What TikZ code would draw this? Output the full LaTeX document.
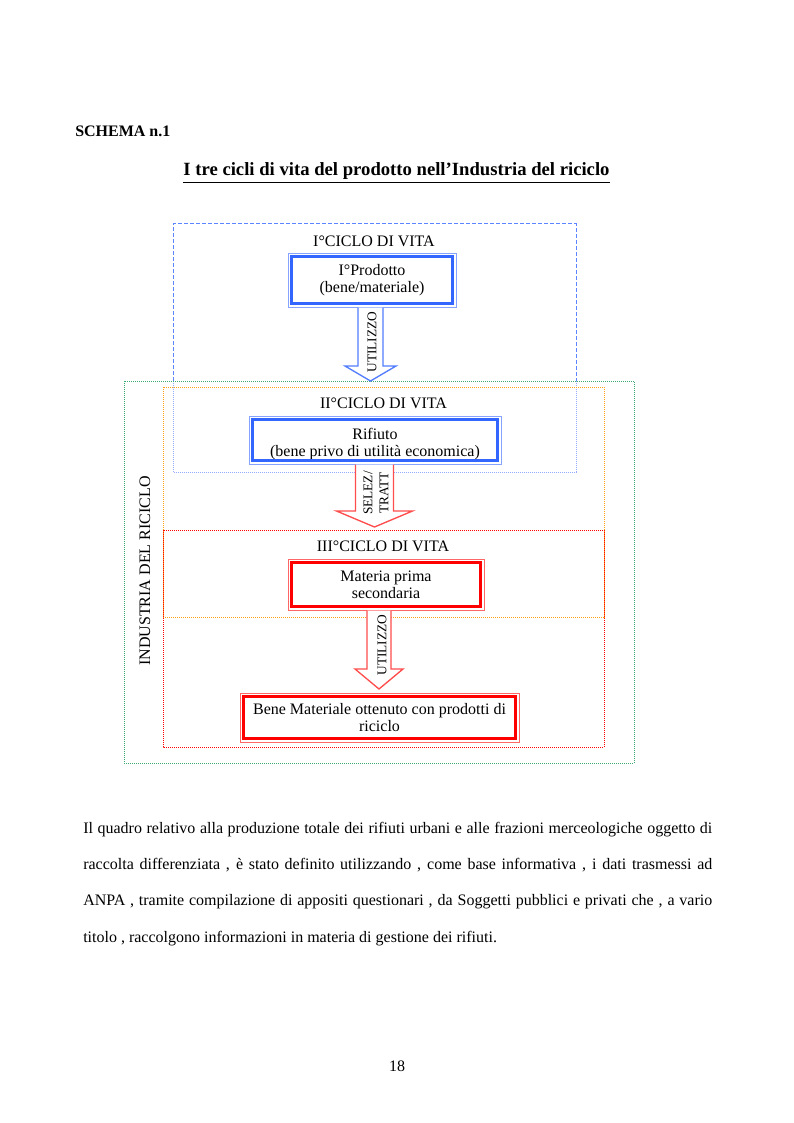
\documentclass[tikz,border=0pt]{standalone}
\usepackage{fontspec}
\setmainfont{Liberation Serif}
\usetikzlibrary{calc}

\definecolor{cycblue}{RGB}{51,102,255}
\definecolor{cycred}{RGB}{255,0,0}
\definecolor{frgreen}{RGB}{60,170,110}
\definecolor{frorange}{RGB}{255,160,20}
\definecolor{frlightblue}{RGB}{150,170,255}

\tikzset{
  lbl/.style={inner sep=0pt, font=\fontsize{12}{14}\selectfont},
  smalllbl/.style={inner sep=0pt, rotate=90, align=center, font=\fontsize{10}{12}\selectfont},
  bluebox/.style={draw=cycblue!60, line width=0.75pt, inner sep=0pt, align=center, font=\fontsize{12}{12.75}\selectfont},
  redbox/.style={draw=cycred!60, line width=0.75pt, inner sep=0pt, align=center, font=\fontsize{12}{12.75}\selectfont},
  bluearrow/.style={draw=cycblue!85, fill=white, line width=1pt},
  redarrow/.style={draw=cycred!70, fill=white, line width=1pt},
  bluedash/.style={draw=cycblue!80, line width=0.75pt, dash pattern=on 3pt off 1.5pt},
  bluedot/.style={draw=frlightblue, line width=0.75pt, dash pattern=on 0.75pt off 0.75pt},
  greendot/.style={draw=frgreen, line width=0.75pt, dash pattern=on 0.75pt off 0.75pt},
  orangedot/.style={draw=frorange, line width=0.75pt, dash pattern=on 0.75pt off 0.75pt},
  reddot/.style={draw=cycred, line width=0.75pt, dash pattern=on 0.75pt off 0.75pt}
}

\begin{document}
\begin{tikzpicture}[x=0.75pt, y=-0.75pt]
  \useasboundingbox (0,0) rectangle (793,1123);

  % heading
  \node[lbl, anchor=base west, font=\bfseries\fontsize{12}{14}\selectfont] (schema) at (75,137) {SCHEMA n.1};
  \node[lbl, anchor=base, font=\bfseries\fontsize{14}{16}\selectfont] (titolo) at (396.5,176) {\underline{I tre cicli di vita del prodotto nell’Industria del riciclo}};

  % frames
  \draw[bluedash] (173,381) |- (576,224) -- (576,381);
  \draw[bluedot] (576,381) |- (173,472) -- (173,381);
  \draw[greendot] (124,381) rectangle (634,763);
  \draw[orangedot] (163,387) rectangle (604,617);
  \draw[reddot] (163,530) rectangle (604,747);

  % cycle labels
  \node[lbl, anchor=base] (ciclo1) at (374,246.5) {I°CICLO DI VITA};
  \node[lbl, anchor=base] (ciclo2) at (383.5,408) {II°CICLO DI VITA};
  \node[lbl, anchor=base] (ciclo3) at (383,551.5) {III°CICLO DI VITA};
  \node[lbl, rotate=90] (industria) at (145,571) {INDUSTRIA DEL RICICLO};

  % boxes
  \node[bluebox, minimum width=126pt, minimum height=40.5pt] (prodotto) at (372,280) {I°Prodotto\\(bene/materiale)};
  \node[bluebox, minimum width=189pt, minimum height=36pt] (rifiuto) at (375,440) {\rule{0pt}{14pt}Rifiuto\\(bene privo di utilità economica)};
  \node[redbox, minimum width=147pt, minimum height=38.25pt] (materia) at (386,584.5) {Materia prima\\secondaria};
  \node[redbox, minimum width=209.25pt, minimum height=36.75pt] (bene) at (379.5,717.5) {Bene Materiale ottenuto con prodotti di\\riciclo};
  \foreach \b/\c in {prodotto/cycblue, rifiuto/cycblue, materia/cycred, bene/cycred}
    \draw[line width=2.8pt, \c] ([shift={(4,4)}]\b.north west) rectangle ([shift={(-4,-4)}]\b.south east);

  % block arrows
  \coordinate (tip1) at (370.5,381);
  \coordinate (tip2) at (374.5,527);
  \coordinate (tip3) at (379,689);
  \draw[bluearrow] ($(prodotto.south -| tip1)+(-12.5,0)$) -- ($(tip1)+(-12.5,-15)$) -- ($(tip1)+(-25.5,-15)$) -- (tip1)
    -- ($(tip1)+(25.5,-15)$) -- ($(tip1)+(12.5,-15)$) -- ($(prodotto.south -| tip1)+(12.5,0)$);
  \draw[redarrow] ($(rifiuto.south -| tip2)+(-19,0)$) -- ($(tip2)+(-19,-16)$) -- ($(tip2)+(-38,-16)$) -- (tip2)
    -- ($(tip2)+(38,-16)$) -- ($(tip2)+(19,-16)$) -- ($(rifiuto.south -| tip2)+(19,0)$);
  \draw[redarrow] ($(materia.south -| tip3)+(-12,0)$) -- ($(tip3)+(-12,-20)$) -- ($(tip3)+(-24,-20)$) -- (tip3)
    -- ($(tip3)+(24,-20)$) -- ($(tip3)+(12,-20)$) -- ($(materia.south -| tip3)+(12,0)$);
  \node[smalllbl] (uso1) at (372,342) {UTILIZZO};
  \node[smalllbl] (selez) at (376,493) {SELEZ/\\TRATT};
  \node[smalllbl] (uso2) at (382,645) {UTILIZZO};

  % text below
  \node[lbl, anchor=base west] (riga1) at (83,833) {\makebox[471.75pt][s]{Il quadro relativo alla produzione totale dei rifiuti urbani e alle frazioni merceologiche oggetto di}};
  \node[lbl, anchor=base west] (riga2) at (83,869) {\makebox[471.75pt][s]{raccolta differenziata , è stato definito utilizzando , come base informativa , i dati trasmessi ad}};
  \node[lbl, anchor=base west] (riga3) at (83,905) {\makebox[471.75pt][s]{ANPA , tramite compilazione di appositi questionari , da Soggetti pubblici e privati che , a vario}};
  \node[lbl, anchor=base west] (riga4) at (83,942) {titolo , raccolgono informazioni in materia di gestione dei rifiuti.};
  \node[lbl, anchor=base] (pagina) at (397,1071) {18};
\end{tikzpicture}
\end{document}
